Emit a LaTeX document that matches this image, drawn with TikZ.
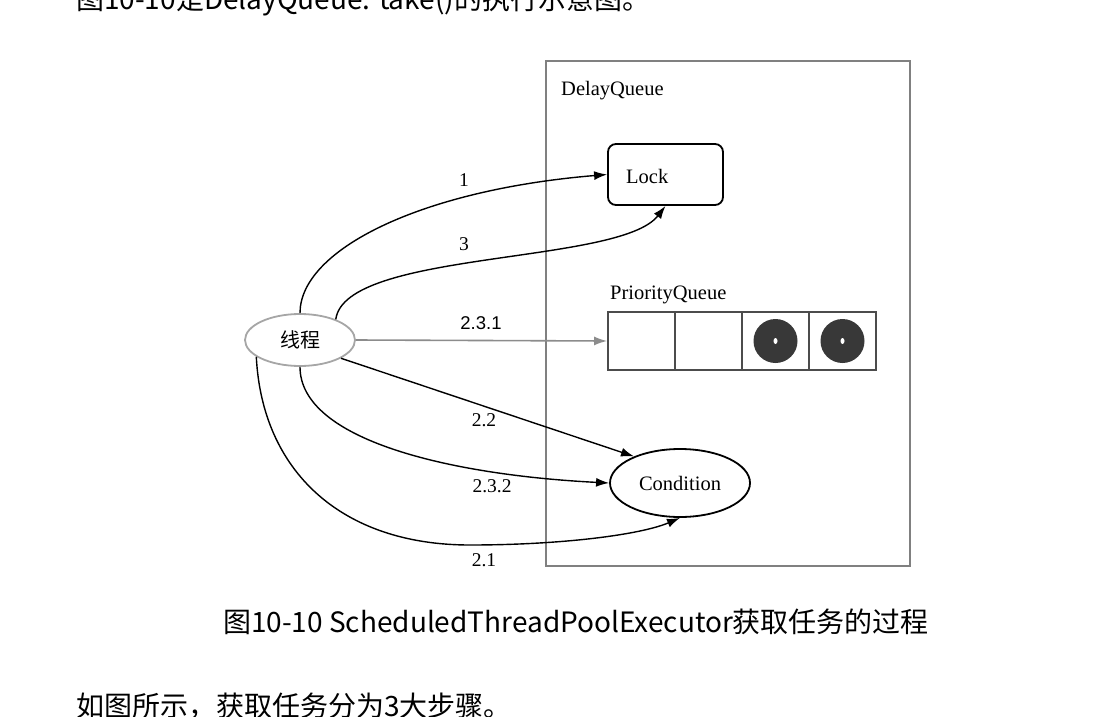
\documentclass[tikz,border=0pt]{standalone}
\usepackage{fontspec}
\setmainfont{Liberation Serif}
\newfontfamily\cjk{Noto Sans CJK SC}
\newfontfamily\arialf{Liberation Sans}
\usetikzlibrary{shapes.geometric,arrows.meta}
\begin{document}
\begin{tikzpicture}[x=1pt,y=-1pt,
  lbl/.style={font=\fontsize{19.5}{19.5}\selectfont, inner sep=0},
  conn/.style={line width=1.4pt, -{Latex[length=13pt,width=9pt]}},
  cell/.style={draw=black!70, line width=1.8pt, minimum width=67pt, minimum height=58pt, inner sep=0},
  dot/.style={circle, fill=black!78, minimum size=44pt, inner sep=0}]
\useasboundingbox (0,0) rectangle (1105,717);
\clip (0,0) rectangle (1105,717);
\fill[white] (0,0) rectangle (1105,717);
% surrounding text
\node[anchor=west, inner sep=0, font=\cjk\fontsize{28}{28}\selectfont] (toptext) at (76,1) {图10-10是DelayQueue. take()的执行示意图。};
\node[inner sep=0, font=\cjk\fontsize{28}{28}\selectfont] (caption) at (576,622) {图10-10 ScheduledThreadPoolExecutor获取任务的过程};
\node[anchor=west, inner sep=0, font=\cjk\fontsize{28}{28}\selectfont] (bottomtext) at (76,706) {如图所示，获取任务分为3大步骤。};
% DelayQueue box
\node[draw=black!50, line width=1.8pt, minimum width=364pt, minimum height=505pt, inner sep=0] (dq) at (728,313.5) {};
\node[anchor=west, font=\fontsize{20.5}{20.5}\selectfont, inner sep=0] (dqlabel) at (561,91) {DelayQueue};
% Lock
\node[draw, line width=1.8pt, rounded corners=8pt, minimum width=115pt, minimum height=61pt, inner sep=0] (lock) at (665.5,174.5) {};
\node[anchor=west, font=\fontsize{20.5}{20.5}\selectfont, inner sep=0] (locklabel) at (626,176) {Lock};
% PriorityQueue
\node[anchor=west, font=\fontsize{20.5}{20.5}\selectfont, inner sep=0] (pqlabel) at (610,295) {PriorityQueue};
\node[cell] (c1) at (641.5,341) {};
\node[cell] (c2) at (708.5,341) {};
\node[cell] (c3) at (775.5,341) {};
\node[cell] (c4) at (842.5,341) {};
\node[dot] (d3) at (775.5,341) {};
\node[dot] (d4) at (842.5,341) {};
\fill[white] (d3.center) ellipse (2pt and 3pt);
\fill[white] (d4.center) ellipse (2pt and 3pt);
% Condition
\node[draw, ellipse, line width=1.8pt, minimum width=140pt, minimum height=68pt, inner sep=0, font=\fontsize{20.5}{20.5}\selectfont] (cond) at (680,483) {Condition};
% Thread
\node[draw=black!35, ellipse, line width=1.8pt, minimum width=110pt, minimum height=52pt, inner sep=0, font=\cjk\fontsize{20}{20}\selectfont] (thread) at (300,340) {线程};
% connectors
\draw[conn] (thread.north) .. controls (300,250) and (420,190) .. (lock.west);
\draw[conn] (thread.30) .. controls (345,250) and (620,265) .. (lock.south);
\draw[line width=1.6pt, draw=black!45, -{Latex[length=13pt,width=9pt]}] (thread.east) -- (c1.west);
\draw[conn] (thread.-24) -- (cond.150);
\draw[conn] (thread.south) .. controls (300,440) and (450,475) .. (cond.west);
\draw[conn] (thread.201) .. controls (262,470) and (340,545) .. (470,545) .. controls (560,545) and (640,535) .. (cond.south);
% labels
\node[lbl] (l1) at (464,180) {1};
\node[lbl] (l3) at (464,244) {3};
\node[lbl, font=\arialf\fontsize{18.5}{18.5}\selectfont] (l231) at (481,323) {2.3.1};
\node[lbl] (l22) at (484,420) {2.2};
\node[lbl] (l232) at (492,486) {2.3.2};
\node[lbl] (l21) at (484,560) {2.1};
\end{tikzpicture}
\end{document}
